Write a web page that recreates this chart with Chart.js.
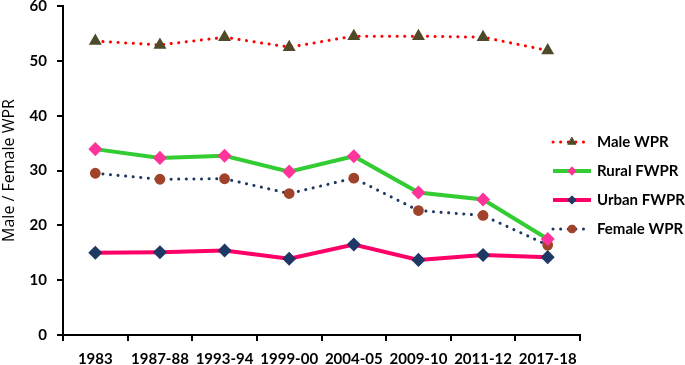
<!DOCTYPE html>
<html>
<head>
<meta charset="utf-8">
<script src="https://cdn.jsdelivr.net/npm/chart.js@4"></script>
<style>
  html, body { margin: 0; padding: 0; background: #fff; }
  #wrap { width: 685px; height: 365px; }
</style>
</head>
<body>
<div id="wrap"><canvas id="wprChart" width="685" height="365"></canvas></div>
<script>
const years = ["1983", "1987-88", "1993-94", "1999-00", "2004-05", "2009-10", "2011-12", "2017-18"];
const maleWPR = [53.6, 52.9, 54.3, 52.5, 54.5, 54.5, 54.3, 51.9];
const ruralFWPR = [33.9, 32.3, 32.7, 29.8, 32.6, 26.0, 24.7, 17.5];
const urbanFWPR = [15.0, 15.1, 15.4, 13.9, 16.5, 13.7, 14.6, 14.2];
const femaleWPR = [29.5, 28.4, 28.5, 25.8, 28.6, 22.7, 21.8, 16.4];
const yTicks = [0, 10, 20, 30, 40, 50, 60];

const FONT = "Lato, 'Open Sans', sans-serif";

// legend drawn by hand so the sample line can carry the marker in the middle
const sideLegend = {
  id: "sideLegend",
  afterDraw(chart) {
    const ctx = chart.ctx;
    const x0 = 553, x1 = 591, xm = 572, xt = 597;
    const rowY = [142, 171, 200, 229];
    chart.data.datasets.forEach((ds, i) => {
      const y = rowY[i];
      ctx.save();
      ctx.strokeStyle = ds.borderColor;
      ctx.lineWidth = ds.borderWidth;
      ctx.lineCap = ds.borderCapStyle || "butt";
      ctx.setLineDash(ds.borderDash || []);
      ctx.beginPath();
      ctx.moveTo(x0, y);
      ctx.lineTo(x1, y);
      ctx.stroke();
      ctx.setLineDash([]);
      ctx.fillStyle = ds.pointBackgroundColor;
      ctx.strokeStyle = ds.pointBorderColor;
      ctx.lineWidth = 1;
      Chart.helpers.drawPoint(ctx, {
        pointStyle: ds.pointStyle,
        radius: ds.pointRadius,
        rotation: 0,
        borderWidth: 1
      }, xm, y);
      ctx.fillStyle = "#000";
      ctx.font = "bold 15px " + FONT;
      ctx.textBaseline = "middle";
      ctx.textAlign = "left";
      ctx.fillText(ds.label, xt, y);
      ctx.restore();
    });
  }
};

const ctx = document.getElementById("wprChart");
new Chart(ctx, {
  type: "line",
  data: {
    labels: years,
    datasets: [
      {
        label: "Male WPR",
        data: maleWPR,
        borderColor: "#ff0000",
        borderWidth: 3,
        borderDash: [0.1, 7.5],
        borderCapStyle: "round",
        pointStyle: "triangle",
        pointRadius: 4.5,
        pointBackgroundColor: "#4f4a2a",
        pointBorderColor: "#4f4a2a",
        tension: 0
      },
      {
        label: "Rural FWPR",
        data: ruralFWPR,
        borderColor: "#33cc33",
        borderWidth: 4,
        pointStyle: "rectRot",
        pointRadius: 4.2,
        pointBackgroundColor: "#ff3399",
        pointBorderColor: "#ff3399",
        tension: 0
      },
      {
        label: "Urban FWPR",
        data: urbanFWPR,
        borderColor: "#ff0066",
        borderWidth: 4,
        pointStyle: "rectRot",
        pointRadius: 4.2,
        pointBackgroundColor: "#1f3864",
        pointBorderColor: "#1f3864",
        tension: 0
      },
      {
        label: "Female WPR",
        data: femaleWPR,
        borderColor: "#1f3864",
        borderWidth: 3,
        borderDash: [0.1, 7.5],
        borderCapStyle: "round",
        pointStyle: "circle",
        pointRadius: 3.9,
        pointBackgroundColor: "#a0432a",
        pointBorderColor: "#a0432a",
        tension: 0
      }
    ]
  },
  options: {
    responsive: false,
    animation: false,
    layout: { autoPadding: false, padding: { left: 0, right: 105, top: 6, bottom: 0 } },
    plugins: {
      legend: { display: false },
      tooltip: { enabled: false }
    },
    scales: {
      x: {
        offset: true,
        grid: { display: true, drawOnChartArea: false, drawTicks: true, tickLength: 6, color: "#000", lineWidth: 2, offset: true },
        border: { display: true, color: "#000", width: 2 },
        ticks: { color: "#000", font: { family: FONT, size: 15, weight: "bold" }, padding: 9, maxRotation: 0, autoSkip: false },
        afterFit(scale) {
          scale.height = 30;
          scale.paddingLeft = 0;
          scale.paddingRight = 0;
        }
      },
      y: {
        min: 0,
        max: 60,
        afterBuildTicks(scale) { scale.ticks = yTicks.map(v => ({ value: v })); },
        grid: { display: true, drawOnChartArea: false, drawTicks: true, tickLength: 6, color: "#000", lineWidth: 2 },
        border: { display: true, color: "#000", width: 2 },
        ticks: { color: "#000", font: { family: FONT, size: 15, weight: "bold" }, padding: 10 },
        title: { display: true, text: "Male / Female WPR", color: "#000", font: { family: "'Open Sans', sans-serif", size: 16, weight: "normal" }, padding: { top: 0, bottom: 0 } },
        afterFit(scale) {
          scale.width = 63;
          scale.paddingTop = 0;
          scale.paddingBottom = 0;
        }
      }
    }
  },
  plugins: [sideLegend]
});
</script>
</body>
</html>
